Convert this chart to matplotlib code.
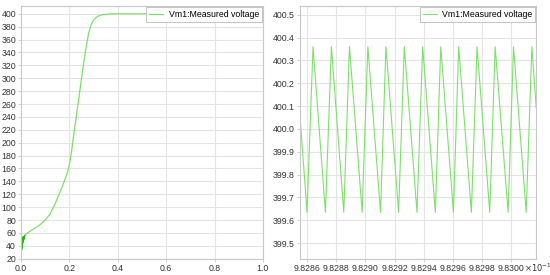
import matplotlib.pyplot as plt
from matplotlib.ticker import MultipleLocator, FuncFormatter

# left: full run, time in s, voltage in V
t_full = [0.0, 0.0005, 0.001, 0.0015, 0.002, 0.0025, 0.003, 0.0035, 0.004, 0.0045,
          0.005, 0.0055, 0.006, 0.0065, 0.007, 0.0075, 0.008, 0.0085, 0.009, 0.0095,
          0.010, 0.011, 0.012, 0.013, 0.014, 0.016, 0.02, 0.04, 0.06, 0.08,
          0.10, 0.12, 0.14, 0.16, 0.17, 0.18, 0.19, 0.20, 0.21, 0.22, 0.23,
          0.24, 0.25, 0.26, 0.27, 0.28, 0.29, 0.30, 0.31, 0.32, 0.34, 0.37, 0.40, 1.0]
v_full = [25, 36, 28, 40, 31, 43, 34, 46, 37, 48,
          40, 50, 42, 51, 44, 52, 46, 53, 47, 54,
          48, 54, 50, 55, 52, 56, 58, 63, 68, 73,
          80, 89, 104, 122, 131, 141, 151, 165, 188, 217, 244,
          271, 298, 325, 350, 370, 383, 390, 394, 396.5, 398.8, 399.8, 400, 400]

# right: zoom on ripple, vertices of the triangle wave (time in s)
t_zoom = [0.982855, 0.9828600, 0.9828641, 0.9828726, 0.9828767, 0.9828852, 0.9828891,
          0.9828978, 0.9829017, 0.9829104, 0.9829141, 0.9829228, 0.9829267,
          0.9829354, 0.9829393, 0.9829480, 0.9829517, 0.9829604, 0.9829640,
          0.9829727, 0.9829766, 0.9829853, 0.9829890, 0.9829979, 0.9830016,
          0.9830103, 0.9830142, 0.9830172]
v_zoom = [400.07, 399.635, 400.36, 399.635, 400.36, 399.635, 400.36,
          399.635, 400.36, 399.635, 400.36, 399.635, 400.36,
          399.635, 400.36, 399.635, 400.36, 399.635, 400.36,
          399.635, 400.36, 399.635, 400.36, 399.635, 400.36,
          399.635, 400.36, 400.09]

label = 'Vm1:Measured voltage'
green = '#7ee06c'
grid_c = '#e4e4e4'
spine_c = '#c8c8c8'
txt_c = '#333333'

plt.rcParams['font.family'] = ['Liberation Sans', 'DejaVu Sans']

fig = plt.figure(figsize=(5.5, 2.75), dpi=100)
ax1 = fig.add_axes([0.038, 0.058, 0.440, 0.920])
ax2 = fig.add_axes([0.545, 0.058, 0.430, 0.920])

ax1.plot(t_full, v_full, color=green, lw=0.9, label=label)
ax1.plot(t_full[:26], v_full[:26], color='#22bb11', lw=0.9)
ax1.set_xlim(0, 1)
ax1.set_ylim(19.5, 412)
ax1.xaxis.set_major_locator(MultipleLocator(0.2))
ax1.yaxis.set_major_locator(MultipleLocator(20))
ax1.xaxis.set_major_formatter(FuncFormatter(lambda x, p: f'{x:.1f}'))

ax2.plot(t_zoom, v_zoom, color=green, lw=0.8, label=label)
ax2.set_xlim(0.982855, 0.9830172)
ax2.set_ylim(399.43, 400.538)
ax2.xaxis.set_major_locator(MultipleLocator(0.00002))
ax2.yaxis.set_major_locator(MultipleLocator(0.1))
ax2.xaxis.set_major_formatter(FuncFormatter(lambda x, p: f'{x * 10:.4f}'))
ax2.yaxis.set_major_formatter(FuncFormatter(lambda y, p: f'{y:.1f}'))
fig.text(0.952, 0.012, r'$\times10^{-1}$', fontsize=6, color=txt_c,
         ha='left', va='baseline')

for ax in (ax1, ax2):
    ax.grid(True, color=grid_c, lw=0.8)
    ax.set_axisbelow(True)
    for s in ax.spines.values():
        s.set_color(spine_c)
        s.set_linewidth(0.8)
    ax.tick_params(labelsize=6.3, colors=txt_c, length=2, width=0.6, pad=1.5)
    ax.tick_params(color=spine_c)
    leg = ax.legend(loc='upper right', fontsize=6.3, frameon=True, fancybox=False,
                    borderaxespad=0.1, handlelength=1.6, borderpad=0.35,
                    handletextpad=0.6)
    leg.get_frame().set_edgecolor('#bbbbbb')
    leg.get_frame().set_linewidth(0.6)
    leg.get_frame().set_alpha(1)

fig.savefig('out.png', dpi=100)
